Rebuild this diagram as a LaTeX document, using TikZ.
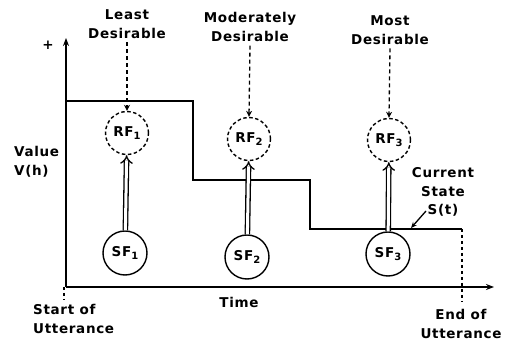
\documentclass[tikz,border=0pt]{standalone}
\usepackage{fontspec}
\setmainfont{DejaVu Sans}[LetterSpace=5]
\usetikzlibrary{arrows.meta}
\newcommand{\subi}[1]{\raisebox{-0.45ex}{\fontsize{10}{10}\selectfont #1}}
\begin{document}
\begin{tikzpicture}[x=1pt,y=-1pt,
  lbl/.style={align=center,inner sep=0pt,font=\fontsize{13.5}{18.5}\selectfont\bfseries},
  rf/.style={circle,draw,dashed,dash pattern=on 3.5pt off 2.5pt,line width=1.4pt,minimum size=43pt,inner sep=0pt,font=\fontsize{13.5}{14}\selectfont\bfseries},
  sf/.style={circle,draw,line width=1.4pt,minimum size=44pt,inner sep=0pt,font=\fontsize{13.5}{14}\selectfont\bfseries},
  axis/.style={line width=1.6pt,-{Stealth[length=8pt,width=6pt]}},
  stair/.style={line width=2.8pt,line join=miter},
  dasharrow/.style={line width=1.3pt,dash pattern=on 4pt off 3pt,-{Stealth[length=6pt,width=6pt]}},
  dblarrow/.style={double,double distance=3pt,line width=1.3pt,-{Implies[length=5pt]}},
  dotline/.style={line width=1.3pt,dash pattern=on 3pt off 3pt}]
\useasboundingbox (0,0) rectangle (507,342);
% axes
\coordinate (O) at (66,287);
\coordinate (ytop) at (66,38);
\coordinate (xend) at (494,287);
\draw[axis] (O) -- (ytop);
\draw[axis] (O) -- (xend);
\coordinate (ostub) at (64,300);
\draw[dotline] (64,287) -- (ostub);
\node[lbl] (plus) at (48,45) {+};
% staircase
\coordinate (s0) at (66,101);
\coordinate (s1) at (193,101);
\coordinate (s2) at (193,180);
\coordinate (s3) at (310,180);
\coordinate (s4) at (310,229);
\coordinate (s5) at (462,229);
\draw[stair] (s0) -- (s1) -- (s2) -- (s3) -- (s4) -- (s5);
\coordinate (eend) at (462,302);
\draw[dotline] (s5) -- (eend);
% labels top
\node[lbl] (least) at (127,24) {Least\\Desirable};
\node[lbl] (mod) at (250,27) {Moderately\\Desirable};
\node[lbl] (most) at (390,30) {Most\\Desirable};
% RF nodes
\node[rf] (RF1) at (127,133) {RF\subi{1}};
\node[rf] (RF2) at (249,139) {RF\subi{2}};
\node[rf] (RF3) at (389,140) {RF\subi{3}};
% SF nodes
\node[sf] (SF1) at (125,253) {SF\subi{1}};
\node[sf] (SF2) at (247,257) {SF\subi{2}};
\node[sf] (SF3) at (388,254) {SF\subi{3}};
% dashed arrows
\draw[dasharrow] (least.south) ++(0,4) -- (RF1.north);
\draw[dasharrow] (mod.south) ++(0,4) -- (RF2.north);
\draw[dasharrow] (most.south) ++(0,4) -- (RF3.north);
% double arrows
\draw[dblarrow] (SF1) -- (RF1);
\draw[dblarrow] (SF2) -- (RF2);
\draw[dblarrow] (SF3) -- (RF3);
% other labels
\node[lbl,align=left,anchor=west] (value) at (14,162) {Value\\V(h)};
\node[lbl] (time) at (239,302) {Time};
\node[lbl,align=left,anchor=west] (start) at (33,319) {Start of\\Utterance};
\node[lbl] (endu) at (461,324) {End of\\Utterance};
\node[lbl] (cur) at (443,192) {Current\\State\\S(t)};
\coordinate (curtip) at (411,228);
\draw[line width=1.3pt,-{Stealth[length=6pt,width=5pt]}] (426,211) -- (curtip);
\end{tikzpicture}
\end{document}
